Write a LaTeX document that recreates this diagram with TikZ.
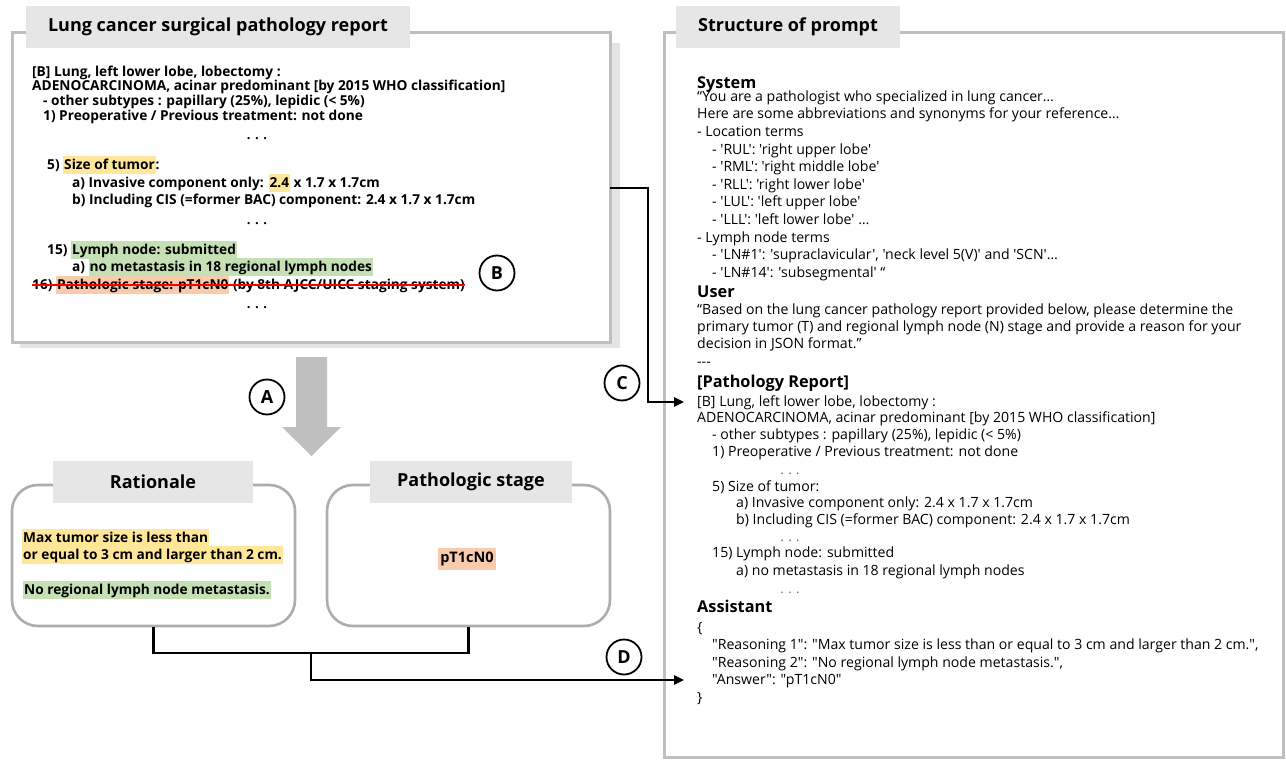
\documentclass[tikz,border=0pt]{standalone}
\usepackage{fontspec}
\newfontfamily\nf{Open Sans}
\usetikzlibrary{arrows.meta,calc}
\definecolor{tabgray}{HTML}{E7E6E6}
\definecolor{framegray}{HTML}{BFBFBF}
\definecolor{boxgray}{HTML}{ADADAD}
\definecolor{shadowgray}{HTML}{E4E4E4}
\definecolor{hlyellow}{HTML}{FFE699}
\definecolor{hlgreen}{HTML}{C5E0B4}
\definecolor{hlorange}{HTML}{F8CBAD}
\definecolor{strikered}{HTML}{FF0000}
\newcommand\hlbox[2]{{\setlength{\fboxsep}{0pt}\colorbox{#1}{\rule[-4.5pt]{0pt}{18pt}\kern1pt #2\kern1pt}}}
\begin{document}
\begin{tikzpicture}[x=1pt,y=-1pt,
  lt/.style={anchor=base west, inner sep=0pt, font=\nf\bfseries\fontsize{13.7}{15}\selectfont},
  ltdots/.style={anchor=base, inner sep=0pt, font=\nf\bfseries\fontsize{13}{15}\selectfont},
  rt/.style={anchor=base west, inner sep=0pt, font=\nf\fontsize{14.1}{15}\selectfont},
  rtdots/.style={anchor=base, inner sep=0pt, text=black!60, font=\nf\fontsize{13}{15}\selectfont},
  rh/.style={anchor=base west, inner sep=0pt, font=\nf\bfseries\fontsize{16.3}{18}\selectfont},
  tabbox/.style={fill=tabgray, inner sep=0pt, minimum height=42pt, font=\nf\bfseries\fontsize{18}{20}\selectfont},
  framebox/.style={draw=framegray, fill=white, line width=3pt, inner sep=0pt},
  rbox/.style={draw=boxgray, fill=white, line width=2.6pt, rounded corners=26pt, inner sep=0pt, minimum width=283pt, minimum height=141pt},
  circlabel/.style={circle, draw=black, line width=1.8pt, minimum size=35pt, inner sep=0pt, font=\nf\bfseries\fontsize{18}{20}\selectfont},
  conn/.style={draw=black, line width=2.4pt},
  connarrow/.style={conn, -{Triangle[length=10pt,width=9pt]}},
]
\useasboundingbox (0,0) rectangle (1286,760);
\fill[white] (0,0) rectangle (1286,760);

% ---------- left report box ----------
\fill[shadowgray] (20,43) rectangle (620,348);
\node[framebox, minimum width=598pt, minimum height=309pt] (rep) at (311,187.5) {};
\node[tabbox, minimum width=384pt] (reptab) at (218,27) {Lung cancer surgical pathology report};

\node[lt] (l1) at (32,76.5) {[B] Lung, left lower lobe, lobectomy :};
\node[lt] (l2) at (32,90.5) {ADENOCARCINOMA, acinar predominant [by 2015 WHO classification]};
\node[lt] (l3) at (43,105.5) {- other subtypes : papillary (25\%), lepidic (< 5\%)};
\node[lt] (l4) at (43,120.5) {1) Preoperative / Previous treatment: not done};
\node[ltdots] (l5) at (257,139.5) {. . .};
\node[lt] (l6) at (47,169.5) {5) \hlbox{hlyellow}{Size of tumor}:};
\node[lt] (l7) at (72,187.5) {a) Invasive component only: \hlbox{hlyellow}{2.4} x 1.7 x 1.7cm};
\node[lt] (l8) at (72,204.5) {b) Including CIS (=former BAC) component: 2.4 x 1.7 x 1.7cm};
\node[ltdots] (l9) at (257,224.5) {. . .};
\node[lt] (l10) at (47,254.5) {15) \hlbox{hlgreen}{Lymph node: submitted}};
\node[lt] (l11) at (72,271.5) {a) \hlbox{hlgreen}{no metastasis in 18 regional lymph nodes}};
\node[lt] (l12) at (32,289.5) {16) \hlbox{hlorange}{Pathologic stage: pT1cN0} (by 8th AJCC/UICC staging system)};
\node[ltdots] (l13) at (257,308.5) {. . .};
\draw[strikered, line width=1.6pt] ([yshift=4.5pt]l12.base west) -- ([yshift=4.5pt]l12.base east);
\node[circlabel] (cB) at (497,273) {B};

% ---------- big gray arrow ----------
\fill[framegray] (296,357) -- (327,357) -- (327,427) -- (341,427) -- (311.5,456) -- (282,427) -- (296,427) -- cycle;
\node[circlabel] (cA) at (267,397) {A};

% ---------- rationale / stage boxes ----------
\node[rbox] (rat) at (153.5,555.5) {};
\node[tabbox, minimum width=200pt] (rattab) at (153,482) {Rationale};
\node[lt] (r1) at (22,542.5) {\hlbox{hlyellow}{Max tumor size is less than}};
\node[lt] (r2) at (22,559.5) {\hlbox{hlyellow}{or equal to 3 cm and larger than 2 cm.}};
\node[lt] (r3) at (23,594.5) {\hlbox{hlgreen}{No regional lymph node metastasis.}};

\node[rbox] (pat) at (468.5,555.5) {};
\node[tabbox, minimum width=202pt] (pattab) at (471,482) {Pathologic stage};
\node[fill=hlorange, inner xsep=2pt, inner ysep=0pt, minimum height=22pt, font=\nf\bfseries\fontsize{14.5}{16}\selectfont] (stage) at (467,559) {pT1cN0};

% ---------- right prompt box ----------
\node[framebox, minimum width=619pt, minimum height=724pt] (prm) at (973.5,395) {};
\node[tabbox, minimum width=224pt] (prmtab) at (788,27) {Structure of prompt};

\node[rh] (hs) at (697,88.5) {System};
\node[rt] (s1) at (697,101.3) {“You are a pathologist who specialized in lung cancer…};
\node[rt] (s2) at (697,118.8) {Here are some abbreviations and synonyms for your reference…};
\node[rt] (s3) at (697,136.3) {- Location terms};
\node[rt] (s4) at (712,154.3) {- 'RUL': 'right upper lobe'};
\node[rt] (s5) at (712,171.3) {- 'RML': 'right middle lobe'};
\node[rt] (s6) at (712,189.3) {- 'RLL': 'right lower lobe'};
\node[rt] (s7) at (712,206.3) {- 'LUL': 'left upper lobe'};
\node[rt] (s8) at (712,224.3) {- 'LLL': 'left lower lobe' …};
\node[rt] (s9) at (697,242.3) {- Lymph node terms};
\node[rt] (s10) at (712,259.3) {- 'LN\#1': 'supraclavicular', 'neck level 5(V)' and 'SCN'…};
\node[rt] (s11) at (712,277.3) {- 'LN\#14': 'subsegmental' “};
\node[rh] (hu) at (697,297.5) {User};
\node[rt] (u1) at (697,314.3) {“Based on the lung cancer pathology report provided below, please determine the};
\node[rt] (u2) at (697,331.3) {primary tumor (T) and regional lymph node (N) stage and provide a reason for your};
\node[rt] (u3) at (697,348.3) {decision in JSON format.”};
\node[rt] (u4) at (697,366.3) {-\kern0pt-\kern0pt-};
\node[rh] (hp) at (697,387.5) {[Pathology Report]};
\node[rt] (pb) at (697,406.3) {[B] Lung, left lower lobe, lobectomy :};
\node[rt] (p2) at (697,422.3) {ADENOCARCINOMA, acinar predominant [by 2015 WHO classification]};
\node[rt] (p3) at (712,439.3) {- other subtypes : papillary (25\%), lepidic (< 5\%)};
\node[rt] (p4) at (712,456.3) {1) Preoperative / Previous treatment: not done};
\node[rtdots] (p5) at (790,474.3) {. . .};
\node[rt] (p6) at (712,491.3) {5) Size of tumor:};
\node[rt] (p7) at (736,507.3) {a) Invasive component only: 2.4 x 1.7 x 1.7cm};
\node[rt] (p8) at (736,524.3) {b) Including CIS (=former BAC) component: 2.4 x 1.7 x 1.7cm};
\node[rtdots] (p9) at (790,541.3) {. . .};
\node[rt] (p10) at (712,557.3) {15) Lymph node: submitted};
\node[rt] (p11) at (736,575.3) {a) no metastasis in 18 regional lymph nodes};
\node[rtdots] (p12) at (790,593.3) {. . .};
\node[rh] (ha) at (697,612.5) {Assistant};
\node[rt] (a1) at (697,632.3) {\{};
\node[rt] (a2) at (712,649.3) {"Reasoning 1": "Max tumor size is less than or equal to 3 cm and larger than 2 cm.",};
\node[rt] (a3) at (712,667.3) {"Reasoning 2": "No regional lymph node metastasis.",};
\node[rt] (ans) at (712,684.3) {"Answer": "pT1cN0"};
\node[rt] (a5) at (697,702.3) {\}};

% ---------- connectors ----------
\coordinate (cstart) at (610,188);
\draw[connarrow] (cstart) -- (648,188) |- ([xshift=-13pt,yshift=4.3pt]pb.base west);
\node[circlabel] (cC) at (622,383) {C};

\coordinate (dmid) at (311,653);
\draw[conn] (rat.south) |- (dmid) -| (pat.south);
\draw[connarrow] (dmid) |- ([xshift=-28pt,yshift=4.3pt]ans.base west);
\node[circlabel] (cD) at (624,657) {D};
\end{tikzpicture}
\end{document}
